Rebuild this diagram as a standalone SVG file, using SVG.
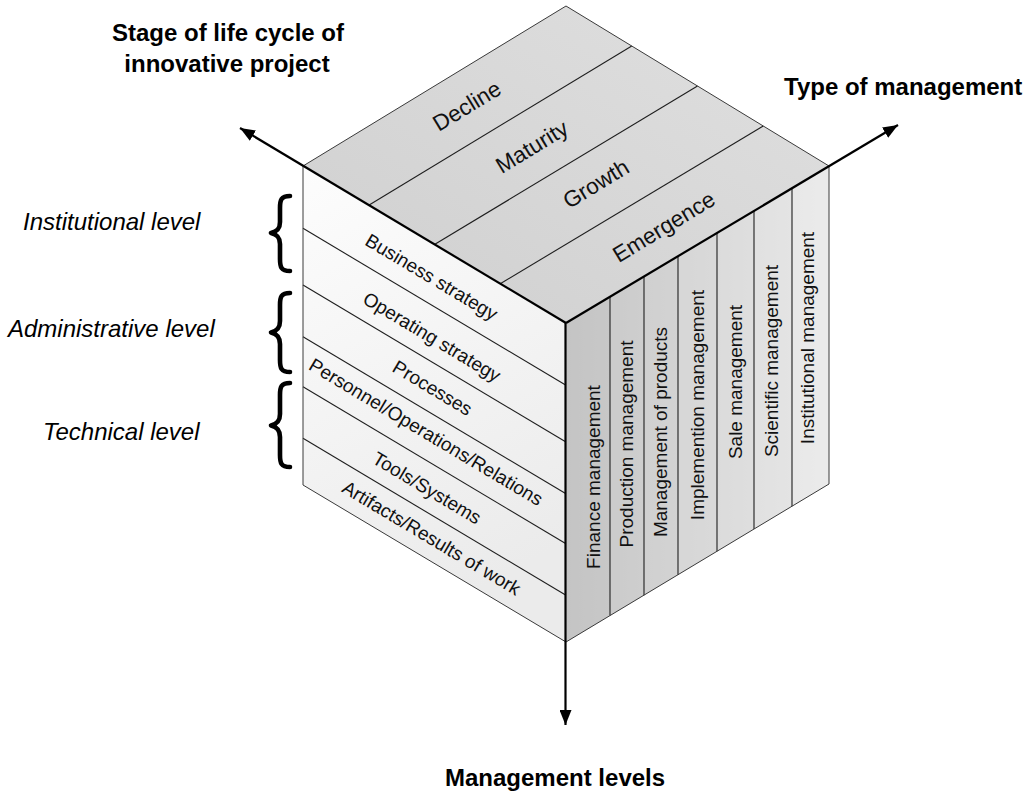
<svg xmlns="http://www.w3.org/2000/svg" width="1028" height="791" viewBox="0 0 1028 791">
  <style>
    .edge { stroke: #3a3a3a; stroke-width: 1; fill: none; }
    .div { stroke: #1e1e1e; stroke-width: 1.1; fill: none; }
    .axis { stroke: #000; stroke-width: 2.2; fill: none; }
    .lbl { font-family: "Liberation Sans", Arial, Helvetica, sans-serif; fill: #111; }
    .side { font-size: 19px; text-anchor: middle; dominant-baseline: central; }
    .top { font-size: 22.5px; text-anchor: middle; dominant-baseline: central; }
    .title { font-size: 24px; font-weight: bold; fill: #000; }
    .lvl { font-size: 24px; font-style: italic; fill: #000; }
    .brace { stroke: #000; stroke-width: 4.6; fill: none; stroke-linecap: round; stroke-linejoin: round; }
  </style>
  <defs>
    <linearGradient id="gTop" x1="0" y1="1" x2="1" y2="0">
      <stop offset="0" stop-color="#cfcfcf"/>
      <stop offset="1" stop-color="#e0e0e0"/>
    </linearGradient>
    <linearGradient id="gLeft" x1="0" y1="0" x2="0.3" y2="1">
      <stop offset="0" stop-color="#fdfdfd"/>
      <stop offset="1" stop-color="#ebebeb"/>
    </linearGradient>
    <linearGradient id="gRight" gradientUnits="userSpaceOnUse" x1="566" y1="0" x2="829" y2="0">
      <stop offset="0" stop-color="#c2c2c2"/>
      <stop offset="1" stop-color="#ececec"/>
    </linearGradient>
    <marker id="arr" markerUnits="userSpaceOnUse" markerWidth="16" markerHeight="12" refX="15" refY="6" orient="auto">
      <path d="M0,0 L15,6 L0,12 z" fill="#000"/>
    </marker>
  </defs>

  <rect width="1028" height="791" fill="#fff"/>

  <!-- Top face: stage of life cycle -->
  <g id="top-face">
    <polygon points="303,166 566,6 829,166 566,323" fill="url(#gTop)"/>
    <line class="div" x1="368.75" y1="205.25" x2="631.75" y2="46"/>
    <line class="div" x1="434.5" y1="244.5" x2="697.5" y2="86"/>
    <line class="div" x1="500.25" y1="283.75" x2="763.25" y2="126"/>
    <polyline class="edge" points="303,166 566,6 829,166"/>
  </g>
  <g id="stage-decline"><text class="lbl top" transform="translate(467,106) rotate(-31.3)">Decline</text></g>
  <g id="stage-maturity"><text class="lbl top" transform="translate(532,147) rotate(-31.3)">Maturity</text></g>
  <g id="stage-growth"><text class="lbl top" transform="translate(596,184) rotate(-31.3)">Growth</text></g>
  <g id="stage-emergence"><text class="lbl top" transform="translate(664,227) rotate(-31.3)">Emergence</text></g>

  <!-- Left face: management levels -->
  <g id="left-face">
    <polygon points="303,166 566,323 566,642 303,485" fill="url(#gLeft)"/>
    <line class="div" x1="303" y1="228.3" x2="566" y2="385.3"/>
    <line class="div" x1="303" y1="285" x2="566" y2="442"/>
    <line class="div" x1="303" y1="336.7" x2="566" y2="493.7"/>
    <line class="div" x1="303" y1="386.7" x2="566" y2="543.7"/>
    <line class="div" x1="303" y1="438.3" x2="566" y2="595.3"/>
    <polyline class="edge" points="303,166 303,485 566,642"/>
  </g>
  <g id="level-business"><text class="lbl side" transform="translate(431.5,277) rotate(30.83)">Business strategy</text></g>
  <g id="level-operating"><text class="lbl side" transform="translate(432,337) rotate(30.83)">Operating strategy</text></g>
  <g id="level-processes"><text class="lbl side" transform="translate(432.5,388) rotate(30.83)">Processes</text></g>
  <g id="level-personnel"><text class="lbl side" transform="translate(426,432) rotate(30.83)">Personnel/Operations/Relations</text></g>
  <g id="level-tools"><text class="lbl side" transform="translate(427,488) rotate(30.83)">Tools/Systems</text></g>
  <g id="level-artifacts"><text class="lbl side" transform="translate(431.5,538) rotate(30.83)">Artifacts/Results of work</text></g>

  <!-- Right face: type of management -->
  <g id="right-face">
    <polygon points="566,323 829,166 829,484 566,642" fill="url(#gRight)"/>
    <polygon points="566,323 610,296.73 610,615.57 566,642" fill="#c6c6c6" opacity="0.55"/>
    <polygon points="610,296.73 644,276.44 644,595.14 610,615.57" fill="#cdcdcd" opacity="0.55"/>
    <polygon points="644,276.44 678,256.14 678,574.71 644,595.14" fill="#d2d2d2" opacity="0.55"/>
    <polygon points="678,256.14 717,232.86 717,551.29 678,574.71" fill="#d8d8d8" opacity="0.55"/>
    <polygon points="717,232.86 754,210.77 754,529.06 717,551.29" fill="#dddddd" opacity="0.55"/>
    <polygon points="754,210.77 792,188.09 792,506.23 754,529.06" fill="#e2e2e2" opacity="0.55"/>
    <polygon points="792,188.09 829,166 829,484 792,506.23" fill="#e9e9e9" opacity="0.55"/>
    <line class="div" x1="610" y1="296.73" x2="610" y2="615.57"/>
    <line class="div" x1="644" y1="276.44" x2="644" y2="595.14"/>
    <line class="div" x1="678" y1="256.14" x2="678" y2="574.71"/>
    <line class="div" x1="717" y1="232.86" x2="717" y2="551.29"/>
    <line class="div" x1="754" y1="210.77" x2="754" y2="529.06"/>
    <line class="div" x1="792" y1="188.09" x2="792" y2="506.23"/>
    <polyline class="edge" points="829,166 829,484 566,642"/>
  </g>
  <g id="type-finance"><text class="lbl side" transform="translate(593,477) rotate(-90)">Finance management</text></g>
  <g id="type-production"><text class="lbl side" transform="translate(626,444) rotate(-90)">Production management</text></g>
  <g id="type-products"><text class="lbl side" transform="translate(660,432) rotate(-90)">Management of products</text></g>
  <g id="type-implemention"><text class="lbl side" transform="translate(697,405) rotate(-90)">Implemention management</text></g>
  <g id="type-sale"><text class="lbl side" transform="translate(735,382) rotate(-90)">Sale management</text></g>
  <g id="type-scientific"><text class="lbl side" transform="translate(771,361) rotate(-90)">Scientific management</text></g>
  <g id="type-institutional"><text class="lbl side" transform="translate(807,338) rotate(-90)">Institutional management</text></g>

  <!-- Axes (connectors) -->
  <g id="connectors">
    <line class="axis" x1="566" y1="323" x2="240" y2="128" marker-end="url(#arr)"/>
    <line class="axis" x1="566" y1="323" x2="898" y2="125" marker-end="url(#arr)"/>
    <line class="axis" x1="565.5" y1="323" x2="565.5" y2="725" marker-end="url(#arr)"/>
  </g>

  <!-- Axis titles -->
  <g id="axis-stage">
    <text class="lbl title" x="228" y="41" text-anchor="middle">Stage of life cycle of</text>
    <text class="lbl title" x="227" y="72" text-anchor="middle">innovative project</text>
  </g>
  <g id="axis-type">
    <text class="lbl title" x="784" y="95">Type of management</text>
  </g>
  <g id="axis-levels">
    <text class="lbl title" x="445" y="786">Management levels</text>
  </g>

  <!-- Level groups with braces -->
  <g id="group-institutional">
    <path class="brace" d="M290,196 C281,196 280,200 280,208 L280,222 C280,229 277,231.5 271,233 C277,234.5 280,237 280,244 L280,259 C280,267 281,271 290,271"/>
    <text class="lbl lvl" x="23" y="230">Institutional level</text>
  </g>
  <g id="group-administrative">
    <path class="brace" d="M290,293 C281,293 280,297 280,305 L280,321 C280,328 277,331 271,332.5 C277,334 280,337 280,344 L280,360 C280,368 281,372 290,372"/>
    <text class="lbl lvl" x="8" y="337">Administrative level</text>
  </g>
  <g id="group-technical">
    <path class="brace" d="M290,383 C281,383 280,387 280,395 L280,414 C280,421 277,424 271,425.5 C277,427 280,430 280,437 L280,455 C280,463 281,467 290,467"/>
    <text class="lbl lvl" x="43" y="440">Technical level</text>
  </g>
</svg>
